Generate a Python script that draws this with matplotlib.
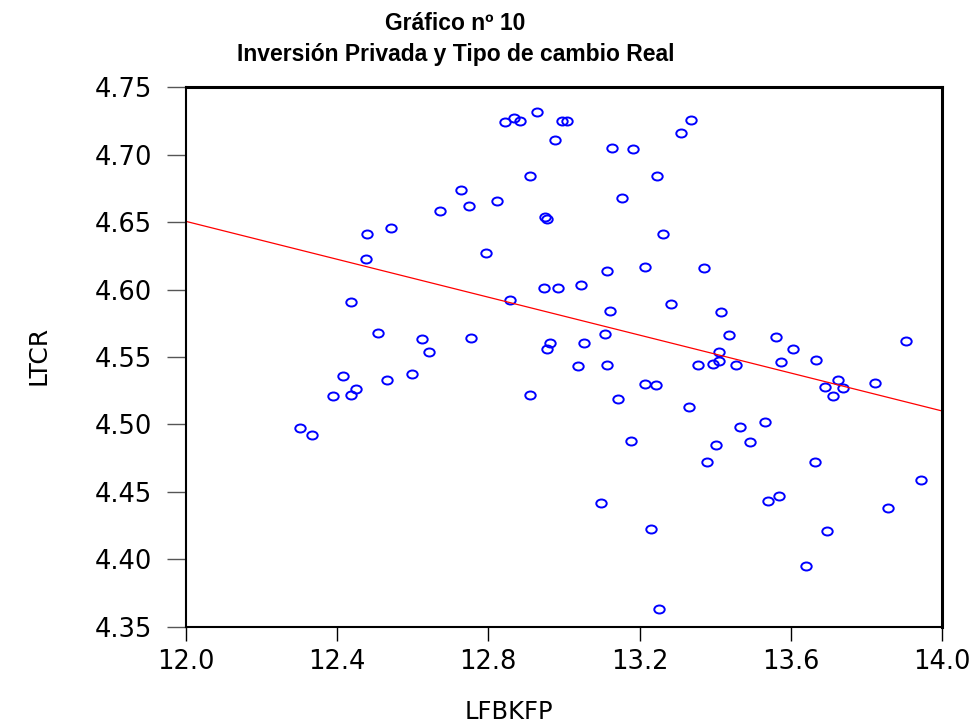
import numpy as np
import matplotlib.pyplot as plt
from matplotlib.path import Path
from matplotlib.transforms import Affine2D

# Datos
lfbkfp = [12.844, 12.867, 12.885, 12.930, 12.995, 13.009, 12.976, 12.911, 12.728, 12.823,
          12.749, 12.673, 12.544, 12.480, 12.950, 12.955, 12.478, 12.793, 12.946, 12.983,
          12.858, 12.437, 12.508, 12.626, 12.755, 12.642, 12.963, 12.955,
          13.337, 13.309, 13.126, 13.183, 13.246, 13.154, 13.263, 13.115, 13.214, 13.369,
          13.044, 13.283, 13.122, 13.415, 13.108, 13.052, 13.435, 13.560, 13.605, 13.904,
          13.411, 13.666,
          13.036, 13.115, 13.355, 13.394, 13.411, 13.455, 13.573, 13.724, 13.690, 13.738,
          13.711, 13.823, 13.215, 13.244, 13.142, 13.330, 13.465, 13.532, 13.176, 13.402,
          13.492, 13.377, 13.664, 13.943, 13.099, 13.538, 13.568, 13.856, 13.229, 13.694,
          13.639, 13.251,
          12.303, 12.334, 12.389, 12.416, 12.437, 12.450, 12.533, 12.597, 12.911]
ltcr = [4.724, 4.727, 4.725, 4.732, 4.725, 4.725, 4.711, 4.684, 4.674, 4.666,
        4.662, 4.658, 4.646, 4.641, 4.654, 4.652, 4.623, 4.627, 4.601, 4.601,
        4.592, 4.591, 4.568, 4.563, 4.564, 4.554, 4.560, 4.556,
        4.726, 4.716, 4.705, 4.704, 4.684, 4.668, 4.641, 4.614, 4.617, 4.616,
        4.603, 4.589, 4.584, 4.583, 4.567, 4.560, 4.566, 4.565, 4.556, 4.562,
        4.554, 4.548,
        4.543, 4.544, 4.544, 4.545, 4.547, 4.544, 4.546, 4.533, 4.528, 4.527,
        4.521, 4.531, 4.530, 4.529, 4.519, 4.513, 4.498, 4.502, 4.488, 4.485,
        4.487, 4.472, 4.472, 4.459, 4.442, 4.443, 4.447, 4.438, 4.422, 4.421,
        4.395, 4.363,
        4.497, 4.492, 4.521, 4.536, 4.522, 4.526, 4.533, 4.537, 4.522]

xticks = [12.0, 12.4, 12.8, 13.2, 13.6, 14.0]
yticks = [4.35, 4.40, 4.45, 4.50, 4.55, 4.60, 4.65, 4.70, 4.75]

x = np.array(lfbkfp)
y = np.array(ltcr)

# recta de regresión
b, a = np.polyfit(x, y, 1)
xr = np.array([12.0, 14.0])

fig = plt.figure(figsize=(9.77, 7.26), dpi=100)
ax = fig.add_axes([0.1900, 0.137, 0.7745, 0.7427])

# circulo un poco achatado como en el original
elipse = Path.unit_circle().transformed(Affine2D().scale(1.3, 1.0))
ax.plot(x, y, linestyle='none', marker=elipse, markersize=7.5, markerfacecolor='none',
        markeredgecolor='#0000ff', markeredgewidth=1.4)
ax.plot(xr, a + b * xr, color='#ff0000', linewidth=0.9)

ax.set_xlim(12.0, 14.0)
ax.set_ylim(4.35, 4.75)
ax.set_xticks(xticks)
ax.set_xticklabels(['%.1f' % t for t in xticks])
ax.set_yticks(yticks)
ax.set_yticklabels(['%.2f' % t for t in yticks])

fuente = 'DejaVu Sans'
for lab in ax.get_xticklabels() + ax.get_yticklabels():
    lab.set_fontfamily(fuente)
    lab.set_fontsize(18.5)
ax.tick_params(axis='x', direction='out', length=10, width=1, pad=6, colors='black')
ax.tick_params(axis='y', direction='out', length=14, width=1, pad=10, color='#555555')

for s in ax.spines.values():
    s.set_linewidth(1.5)
    s.set_color('black')
ax.spines['top'].set_linewidth(2.2)
ax.spines['right'].set_linewidth(2.2)

fig.text(0.039, 0.511, 'LTCR', rotation=90, ha='center', va='center',
         fontsize=18, family=fuente)
fig.text(0.521, 0.019, 'LFBKFP', ha='center', va='center',
         fontsize=17.5, family=fuente)
fig.text(0.466, 0.946, 'Gráfico nº 10\nInversión Privada y Tipo de cambio Real',
         ha='center', va='center', fontsize=16.5, fontweight='bold',
         family='Liberation Sans', linespacing=1.45)

fig.savefig('out.png', dpi=100)
